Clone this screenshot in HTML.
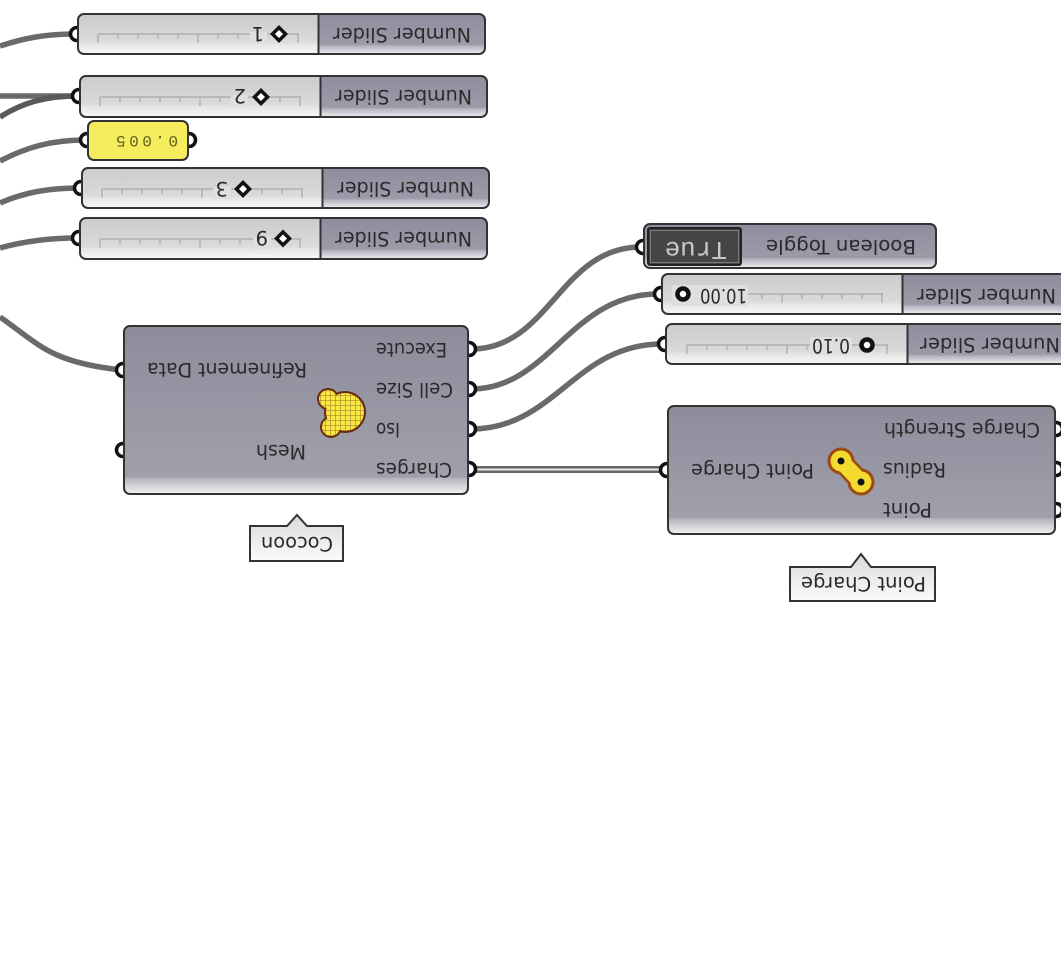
<!DOCTYPE html>
<html><head><meta charset="utf-8"><style>
html,body{margin:0;padding:0;background:#fff;width:1061px;height:965px;overflow:hidden}
svg{display:block}
text{font-family:"DejaVu Sans",sans-serif;font-size:19.5px;fill:#2a2a2a}
</style></head><body>
<svg width="1061" height="965" viewBox="0 0 1061 965" xmlns="http://www.w3.org/2000/svg">
<defs>
<linearGradient id="t" x1="0" y1="0" x2="0" y2="1"><stop offset="0" stop-color="#8e8d9d"/><stop offset=".76" stop-color="#9c9baa"/><stop offset=".8" stop-color="#b4b4c0"/><stop offset="1" stop-color="#eeeef0"/></linearGradient>
<linearGradient id="b" x1="0" y1="0" x2="0" y2="1"><stop offset="0" stop-color="#8d8c9b"/><stop offset=".9" stop-color="#a0a0ac"/><stop offset=".905" stop-color="#b2b2bc"/><stop offset="1" stop-color="#f2f2f4"/></linearGradient>
<linearGradient id="p" x1="0" y1="0" x2="0" y2="1"><stop offset="0" stop-color="#8d8c9b"/><stop offset=".875" stop-color="#a0a0ac"/><stop offset=".88" stop-color="#b2b2bc"/><stop offset="1" stop-color="#f2f2f4"/></linearGradient>
<linearGradient id="s" x1="0" y1="0" x2="0" y2="1"><stop offset="0" stop-color="#cbcbcb"/><stop offset=".68" stop-color="#dadada"/><stop offset=".76" stop-color="#e6e6e6"/><stop offset="1" stop-color="#f8f8f8"/></linearGradient>
<linearGradient id="tip" x1="0" y1="0" x2="0" y2="1"><stop offset="0" stop-color="#d8dad8"/><stop offset="1" stop-color="#fbfbfb"/></linearGradient>
<pattern id="grid" width="5" height="5" patternUnits="userSpaceOnUse"><rect width="5" height="5" fill="#f7e844"/><path d="M0 0H5M0 0V5" stroke="#a8862a" stroke-width="1.300"/></pattern>
<g id="rail" fill="none" stroke="#a9a9a9" stroke-width="1.2"><path d="M0 0H201M0 0v9M100 0v9M200 0v9M20 0v5M40 0v5M60 0v5M80 0v5M120 0v5M140 0v5M160 0v5M180 0v5"/></g>
</defs>

<!-- wires -->
<g fill="none" stroke="#6a6a6a" stroke-width="5.500">
<path d="M75 34C45 34 25 38 0 46"/>
<path d="M77 96H0"/>
<path d="M77 96C45 96 22 103 0 117" stroke="#5a5a5a"/>
<path d="M85 140C50 140 25 148 0 161"/>
<path d="M79 188C50 188 25 192 0 203"/>
<path d="M77 238C50 238 25 241 0 248"/>
<path d="M121 370C50 362 40 345 0 317"/>
<path d="M471 349C550 349 560 247 641 247"/>
<path d="M471 389C550 389 570 294 658 294"/>
<path d="M471 429C555 429 575 344 662 344"/>
<path d="M471 469.500H664" stroke="#666" stroke-width="7"/>
<path d="M471 469.500H664" stroke="#e8e8e8" stroke-width="2"/>
</g>

<!-- grips -->
<g fill="#fff" stroke="#111" stroke-width="3.500">
<circle cx="77" cy="34" r="6.500"/><circle cx="79" cy="96" r="6.500"/><circle cx="87" cy="140" r="6.500"/><circle cx="189" cy="140" r="6.500"/><circle cx="81" cy="188" r="6.500"/><circle cx="79" cy="238" r="6.500"/>
<circle cx="123" cy="370" r="6.500"/><circle cx="123" cy="450" r="6.500"/>
<circle cx="469" cy="349" r="6.500"/><circle cx="469" cy="389" r="6.500"/><circle cx="469" cy="429" r="6.500"/><circle cx="469" cy="469" r="6.500"/>
<circle cx="667" cy="470" r="6.500"/><circle cx="1056" cy="429" r="6.500"/><circle cx="1056" cy="469" r="6.500"/><circle cx="1056" cy="510" r="6.500"/>
<circle cx="643" cy="247" r="6.500"/><circle cx="661" cy="294" r="6.500"/><circle cx="665" cy="344" r="6.500"/>
</g>

<!-- slider 1 -->
<rect x="78" y="14" width="407" height="40" rx="6" fill="url(#t)"/>
<path d="M84 14H318V54H84Q78 54 78 48V20Q78 14 84 14Z" fill="url(#s)"/>
<use href="#rail" x="98" y="34"/>
<rect x="250" y="32" width="17" height="12" fill="#dfdfdf"/>
<path d="M279 27.500L285.500 34L279 40.500L272.500 34Z" fill="#fff" stroke="#111" stroke-width="3.500"/>
<rect x="78" y="14" width="407" height="40" rx="6" fill="none" stroke="#333" stroke-width="2"/>
<path d="M318.500 14V54" stroke="#333" stroke-width="2"/>

<!-- slider 2 -->
<rect x="80" y="76" width="407" height="41" rx="6" fill="url(#t)"/>
<path d="M86 76H320V117H86Q80 117 80 111V82Q80 76 86 76Z" fill="url(#s)"/>
<use href="#rail" x="100" y="97"/>
<rect x="231" y="95" width="17" height="12" fill="#dfdfdf"/>
<path d="M261 90.500L267.500 97L261 103.500L254.500 97Z" fill="#fff" stroke="#111" stroke-width="3.500"/>
<rect x="80" y="76" width="407" height="41" rx="6" fill="none" stroke="#333" stroke-width="2"/>
<path d="M320.500 76V117" stroke="#333" stroke-width="2"/>

<!-- panel -->
<rect x="88" y="121" width="100" height="39" rx="6" fill="#f5ec5e" stroke="#333" stroke-width="2"/>

<!-- slider 3 -->
<rect x="82" y="168" width="407" height="40" rx="6" fill="url(#t)"/>
<path d="M88 168H322V208H88Q82 208 82 202V174Q82 168 88 168Z" fill="url(#s)"/>
<use href="#rail" x="102" y="189"/>
<rect x="213" y="187" width="18" height="12" fill="#dfdfdf"/>
<path d="M243 182.500L249.500 189L243 195.500L236.500 189Z" fill="#fff" stroke="#111" stroke-width="3.500"/>
<rect x="82" y="168" width="407" height="40" rx="6" fill="none" stroke="#333" stroke-width="2"/>
<path d="M322.500 168V208" stroke="#333" stroke-width="2"/>

<!-- slider 9 -->
<rect x="80" y="218" width="407" height="41" rx="6" fill="url(#t)"/>
<path d="M86 218H320V259H86Q80 259 80 253V224Q80 218 86 218Z" fill="url(#s)"/>
<use href="#rail" x="100" y="239"/>
<rect x="253" y="237" width="18" height="12" fill="#dfdfdf"/>
<path d="M283 232L289.500 238.500L283 245L276.500 238.500Z" fill="#fff" stroke="#111" stroke-width="3.500"/>
<rect x="80" y="218" width="407" height="41" rx="6" fill="none" stroke="#333" stroke-width="2"/>
<path d="M320.500 218V259" stroke="#333" stroke-width="2"/>

<!-- boolean toggle -->
<rect x="644" y="224" width="292" height="44" rx="6" fill="url(#t)" stroke="#333" stroke-width="2"/>
<rect x="648" y="228" width="93" height="37" rx="2" fill="#454545" stroke="#222" stroke-width="2"/>
<rect x="650.500" y="230.500" width="88" height="32" fill="none" stroke="#7a7a7a" stroke-width="1"/>

<!-- slider 10 -->
<rect x="662" y="274" width="420" height="40" rx="6" fill="url(#t)"/>
<path d="M668 274H902V314H668Q662 314 662 308V280Q662 274 668 274Z" fill="url(#s)"/>
<use href="#rail" x="682" y="294"/>
<rect x="672" y="285" width="76" height="21" fill="#dfdfdf"/>
<circle cx="683" cy="294" r="5.500" fill="#fff" stroke="#111" stroke-width="4.500"/>
<rect x="662" y="274" width="420" height="40" rx="6" fill="none" stroke="#333" stroke-width="2"/>
<path d="M902.500 274V314" stroke="#333" stroke-width="2"/>

<!-- slider 0.10 -->
<rect x="666" y="324" width="420" height="40" rx="6" fill="url(#t)"/>
<path d="M672 324H907V364H672Q666 364 666 358V330Q666 324 672 324Z" fill="url(#s)"/>
<use href="#rail" x="687" y="345"/>
<rect x="810" y="337" width="42" height="18" fill="#dfdfdf"/>
<circle cx="867" cy="345" r="5.500" fill="#fff" stroke="#111" stroke-width="4.500"/>
<rect x="666" y="324" width="420" height="40" rx="6" fill="none" stroke="#333" stroke-width="2"/>
<path d="M907.500 324V364" stroke="#333" stroke-width="2"/>

<!-- cocoon -->
<rect x="124" y="326" width="344" height="168" rx="6" fill="url(#b)" stroke="#333" stroke-width="2"/>
<g fill="#6a2a10" stroke="#6a2a10" stroke-width="4"><circle cx="345" cy="412" r="19"/><circle cx="328" cy="399" r="9"/><circle cx="331" cy="427" r="9"/><path d="M332 403L342 408L342 418L334 423Z"/></g>
<g fill="url(#grid)"><circle cx="345" cy="412" r="19"/><circle cx="328" cy="399" r="9"/><circle cx="331" cy="427" r="9"/><path d="M332 403L342 402L342 422L334 423Z"/></g>

<!-- point charge -->
<rect x="668" y="406" width="387" height="128" rx="6" fill="url(#p)" stroke="#333" stroke-width="2"/>
<g fill="#9a4a12"><circle cx="841" cy="461" r="13.500"/><circle cx="861" cy="482" r="13.500"/></g>
<path d="M841 461L861 482" stroke="#9a4a12" stroke-width="21"/>
<g fill="#f4d92e"><circle cx="841" cy="461" r="10.500"/><circle cx="861" cy="482" r="10.500"/></g>
<path d="M841 461L861 482" stroke="#f4d92e" stroke-width="16"/>
<circle cx="841" cy="461" r="3.500" fill="#111"/><circle cx="861" cy="482" r="3.500" fill="#111"/>

<!-- tooltips -->
<path d="M250 526H287L297 515L307 526H343V561H250Z" fill="url(#tip)" stroke="#333" stroke-width="2"/>
<path d="M790 567H851L861 554L871 567H935V601H790Z" fill="url(#tip)" stroke="#333" stroke-width="2"/>

<!-- text (rotated 180deg) -->
<g>
<text transform="translate(471 28) rotate(180)" textLength="138" lengthAdjust="spacingAndGlyphs">Number Slider</text>
<text transform="translate(472 90) rotate(180)" textLength="137" lengthAdjust="spacingAndGlyphs">Number Slider</text>
<text transform="translate(474 182) rotate(180)" textLength="137" lengthAdjust="spacingAndGlyphs">Number Slider</text>
<text transform="translate(472 232) rotate(180)" textLength="137" lengthAdjust="spacingAndGlyphs">Number Slider</text>
<text transform="translate(1056 289) rotate(180)" textLength="139" lengthAdjust="spacingAndGlyphs">Number Slider</text>
<text transform="translate(1060 338) rotate(180)" textLength="140" lengthAdjust="spacingAndGlyphs">Number Slider</text>
<text transform="translate(916 240) rotate(180)" textLength="150" lengthAdjust="spacingAndGlyphs">Boolean Toggle</text>
<text transform="translate(264 27) rotate(180)" style="font-size:19.5px">1</text>
<text transform="translate(246 89) rotate(180)" style="font-size:19.5px">2</text>
<text transform="translate(228 182) rotate(180)" style="font-size:19.5px">3</text>
<text transform="translate(268 231) rotate(180)" style="font-size:19.5px">9</text>
<text transform="translate(747 289) rotate(180)" textLength="47" lengthAdjust="spacingAndGlyphs">10.00</text>
<text transform="translate(850 339) rotate(180)" textLength="38" lengthAdjust="spacingAndGlyphs">0.10</text>
<text transform="translate(178 136) rotate(180)" textLength="62" style="font-family:'Liberation Mono',monospace;font-size:16px;fill:#5c5c20">0.005</text>
<text transform="translate(727 242) rotate(180)" style="font-family:'Liberation Mono',monospace;font-size:26px;fill:#c8c8c8">True</text>
<text transform="translate(447 343) rotate(180)" textLength="71" lengthAdjust="spacingAndGlyphs">Execute</text>
<text transform="translate(453 383) rotate(180)" textLength="77" lengthAdjust="spacingAndGlyphs">Cell Size</text>
<text transform="translate(400 423) rotate(180)" textLength="24" lengthAdjust="spacingAndGlyphs">Iso</text>
<text transform="translate(452 463) rotate(180)" textLength="76" lengthAdjust="spacingAndGlyphs">Charges</text>
<text transform="translate(307 363) rotate(180)" textLength="160" lengthAdjust="spacingAndGlyphs">Refinement Data</text>
<text transform="translate(306 445) rotate(180)" textLength="50" lengthAdjust="spacingAndGlyphs">Mesh</text>
<text transform="translate(333 537) rotate(180)" textLength="72" lengthAdjust="spacingAndGlyphs">Cocoon</text>
<text transform="translate(1040 423) rotate(180)" textLength="156" lengthAdjust="spacingAndGlyphs">Charge Strength</text>
<text transform="translate(946 463) rotate(180)" textLength="63" lengthAdjust="spacingAndGlyphs">Radius</text>
<text transform="translate(932 503) rotate(180)" textLength="49" lengthAdjust="spacingAndGlyphs">Point</text>
<text transform="translate(814 464) rotate(180)" textLength="123" lengthAdjust="spacingAndGlyphs">Point Charge</text>
<text transform="translate(926 577) rotate(180)" textLength="125" lengthAdjust="spacingAndGlyphs">Point Charge</text>
</g>
</svg>
</body></html>
